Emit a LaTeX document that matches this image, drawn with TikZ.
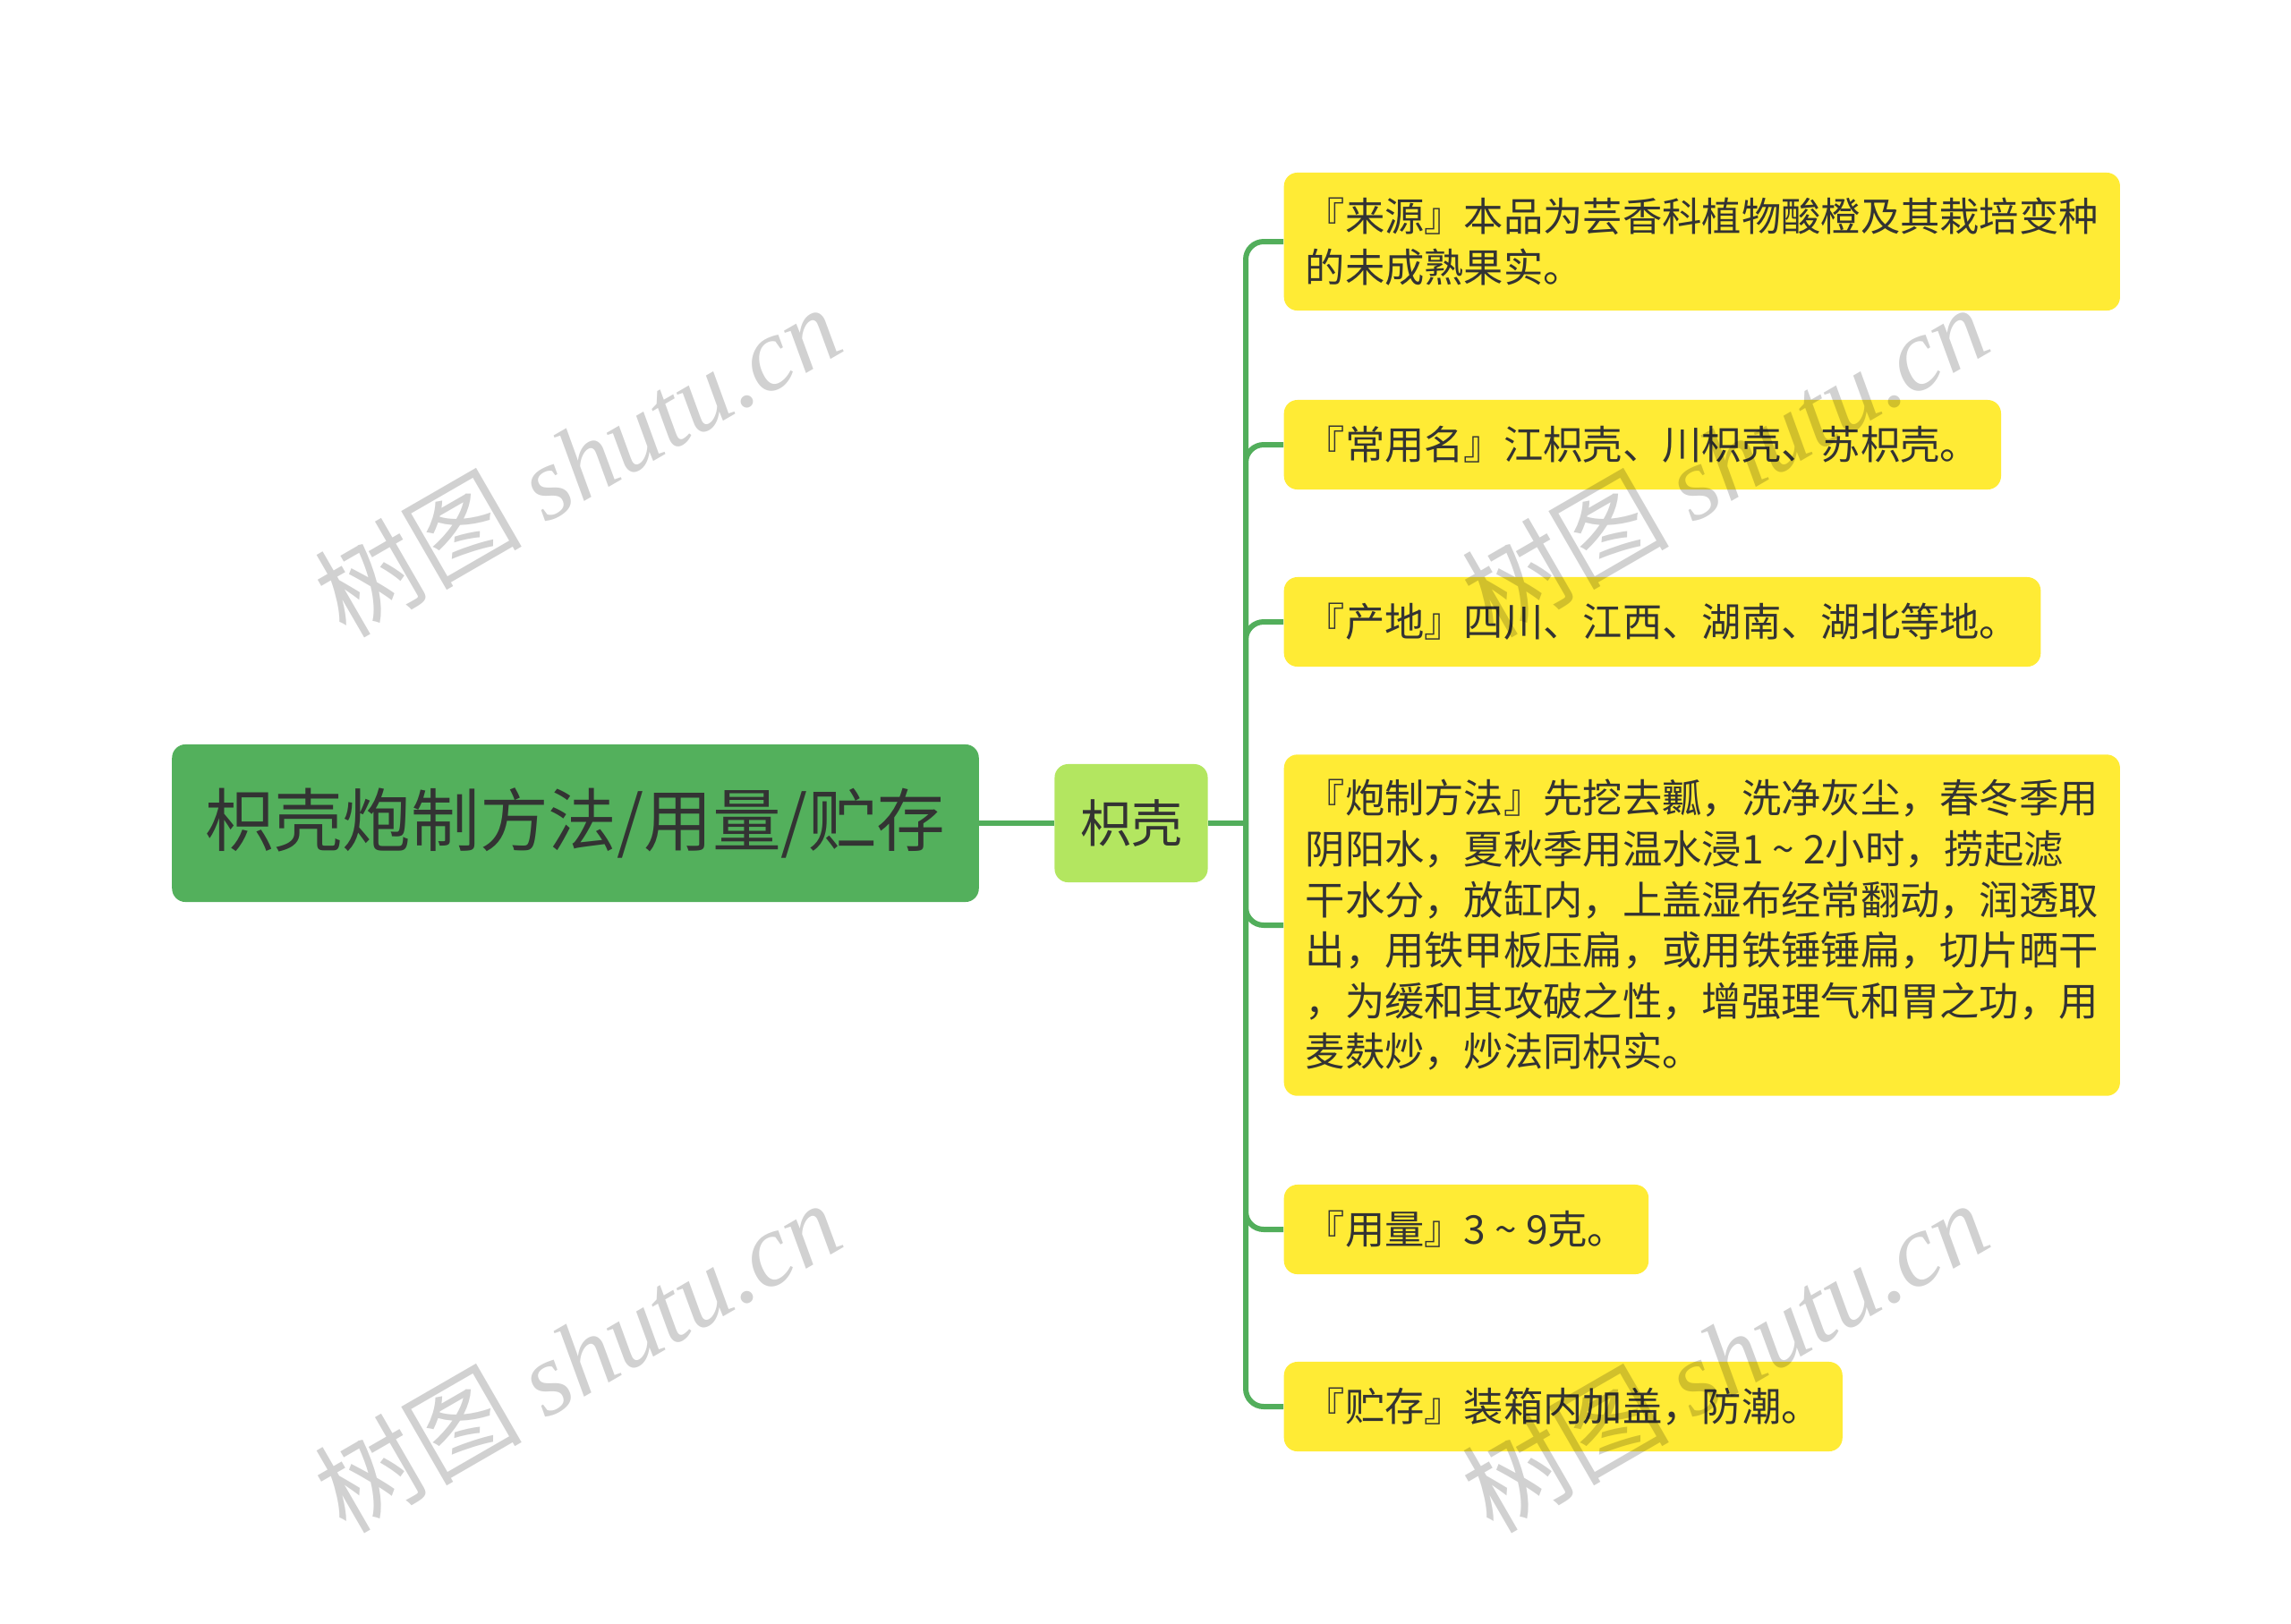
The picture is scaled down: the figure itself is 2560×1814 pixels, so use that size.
\documentclass[tikz,border=0pt]{standalone}
\usepackage{fontspec}
\setmainfont{Noto Sans CJK SC}
\newfontfamily\wmlatin{Liberation Serif}
\usetikzlibrary{calc}

\definecolor{branchgreen}{HTML}{52AE5B}
\definecolor{rootgreen}{HTML}{53B05C}
\definecolor{subgreen}{HTML}{B3E660}
\definecolor{leafyellow}{HTML}{FFEB35}
\definecolor{inkgrey}{HTML}{333333}
\newcommand{\leaffont}{\fontsize{12.6pt}{16.1pt}\selectfont}

\begin{document}
\begin{tikzpicture}[x=0.01cm, y=-0.01cm,
  branch/.style={draw=branchgreen, line width=1.7pt, rounded corners=0.2cm},
  rootbox/.style={fill=rootgreen, rounded corners=0.15cm, text=inkgrey,
    minimum width=9.01cm, minimum height=1.76cm, font=\fontsize{21.8pt}{26pt}\selectfont},
  subbox/.style={fill=subgreen, rounded corners=0.15cm, text=inkgrey,
    minimum width=1.71cm, minimum height=1.32cm, font=\fontsize{16.2pt}{20pt}\selectfont},
  leafbox/.style={fill=leafyellow, rounded corners=0.15cm, text=inkgrey, anchor=west,
    align=left, inner xsep=0.24cm, inner ysep=0.28cm, minimum height=1cm, font=\leaffont},
  wmark/.style={text=black, text opacity=0.18, rotate=30, font=\fontsize{33pt}{36pt}\selectfont}]
\useasboundingbox (0,0) rectangle (2560,1814);
% root and the one sub topic
\node[rootbox] (root) at (643,920) {枳壳炮制方法/用量/贮存};
\node[subbox] (zhiqiao) at (1264,920) {枳壳};
\coordinate (fork) at (1392,920);
% the six notes
\node[leafbox] (laiyuan) at (1434,270) {『来源』本品为芸香科植物酸橙及其栽培变种\\的未成熟果实。};
\node[leafbox] (mingcheng) at (1434,497) {『常用名』江枳壳、川枳壳、苏枳壳。};
\node[leafbox] (chandi) at (1434,695) {『产地』四川、江西、湖南、湖北等地。};
\node[leafbox] (paozhi) at (1434,1034) {『炮制方法』先挖去瓤，洗净灰尘，春冬季用\\
  阴阳水，夏秋季用温水浸1 \textasciitilde{} 2小时，捞起滤\\干水分，放缸内，上盖湿布经常翻动，润透取\\
  出，用铁甲板压扁，或用铁锤锤扁，切片晒干\\，为缓和其攻破之性，增强理气和胃之功，用\\
  麦麸炒，炒法同枳实。};
\node[leafbox] (yongliang) at (1434,1374) {『用量』3 \textasciitilde{} 9克。};
\node[leafbox] (zhucun) at (1434,1572) {『贮存』装箱内加盖，防潮。};
% connectors
\draw[branch] (root.east) -- (zhiqiao.west);
\draw[branch] (zhiqiao.east) -- (fork);
\foreach \n in {laiyuan,mingcheng,chandi,paozhi,yongliang,zhucun}
  \draw[branch] (fork) |- (\n.west);
% watermarks
\foreach \p [count=\i] in {(645,514),(1927,514),(645,1515),(1927,1515)}
  \node[wmark] (wm\i) at \p {树图 {\wmlatin\itshape shutu.cn}};
\end{tikzpicture}
\end{document}
